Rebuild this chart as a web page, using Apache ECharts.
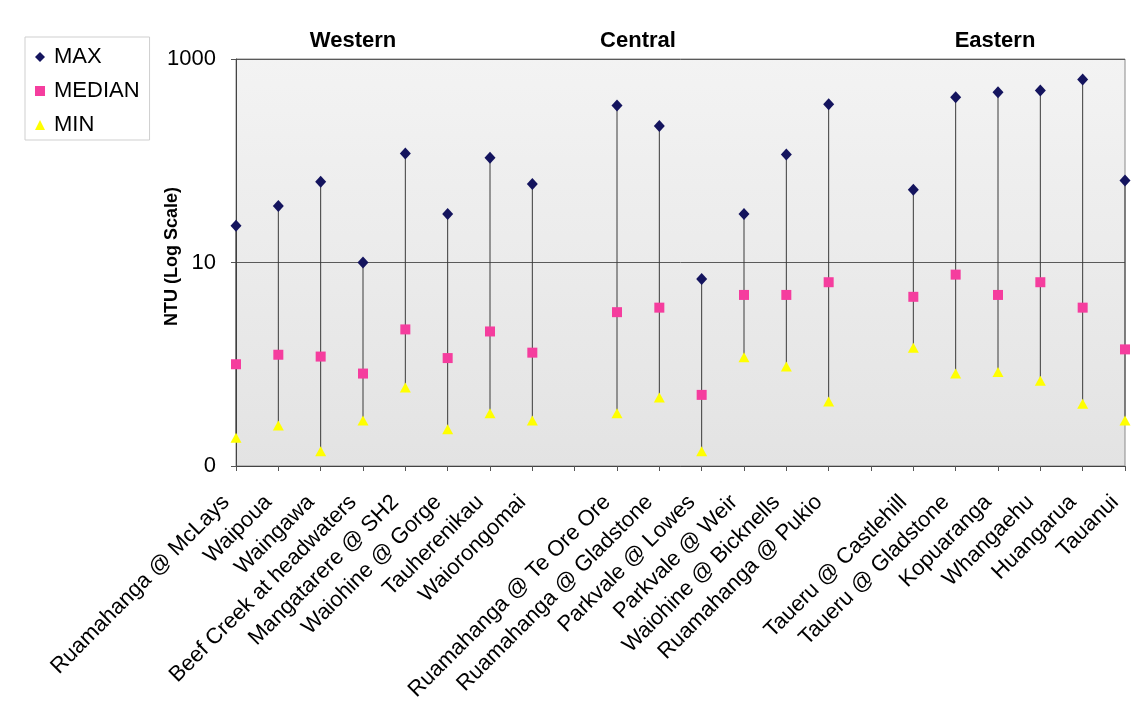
<!DOCTYPE html>
<html>
<head>
<meta charset="utf-8">
<script src="https://cdn.jsdelivr.net/npm/echarts@6/dist/echarts.min.js"></script>
<style>
  html, body { margin: 0; padding: 0; background: #fff; }
  #chart { width: 1132px; height: 704px; }
</style>
</head>
<body>
<div id="chart"></div>
<script>
// Turbidity (NTU) per monitoring site, grouped by region; '' marks the spacer slot between regions
const sites = [
  'Ruamahanga @ McLays', 'Waipoua', 'Waingawa', 'Beef Creek at headwaters',
  'Mangatarere @ SH2', 'Waiohine @ Gorge', 'Tauherenikau', 'Waiorongomai',
  '',
  'Ruamahanga @ Te Ore Ore', 'Ruamahanga @ Gladstone', 'Parkvale @ Lowes',
  'Parkvale @ Weir', 'Waiohine @ Bicknells', 'Ruamahanga @ Pukio',
  '',
  'Taueru @ Castlehill', 'Taueru @ Gladstone', 'Kopuaranga', 'Whangaehu',
  'Huangarua', 'Tauanui'
];
const maxNTU = [23, 36, 62, 10, 118, 30, 107, 59, null,
  350, 220, 6.9, 30, 115, 360, null,
  52, 420, 470, 490, 630, 64];
const medianNTU = [1.0, 1.24, 1.19, 0.81, 2.2, 1.15, 2.1, 1.3, null,
  3.25, 3.6, 0.5, 4.8, 4.8, 6.4, null,
  4.6, 7.6, 4.8, 6.4, 3.6, 1.4];
const minNTU = [0.19, 0.25, 0.14, 0.28, 0.59, 0.23, 0.33, 0.28, null,
  0.33, 0.47, 0.14, 1.17, 0.95, 0.43, null,
  1.45, 0.81, 0.84, 0.69, 0.41, 0.28];
const regions = ['Western', 'Central', 'Eastern'];
const yTickText = { '0.1': '0', '10': '10', '1000': '1000' };

const FONT = 'Liberation Sans, Arial, sans-serif';

// min-to-max range lines
const rangeData = [];
sites.forEach((s, i) => {
  if (minNTU[i] != null && maxNTU[i] != null) rangeData.push([i, minNTU[i], maxNTU[i]]);
});

const regionTitle = (text, x) => ({
  type: 'text', x: x, y: 41,
  style: { text: text, font: 'bold 22px ' + FONT, fill: '#000', textAlign: 'center', textVerticalAlign: 'middle' }
});

const chart = echarts.init(document.getElementById('chart'), null, { renderer: 'canvas' });

chart.setOption({
  backgroundColor: '#ffffff',
  animation: false,
  textStyle: { fontFamily: FONT },
  legend: {
    orient: 'vertical',
    left: 25,
    top: 37,
    padding: [9, 10, 4, 10],
    itemWidth: 10,
    itemHeight: 10,
    itemGap: 12,
    borderColor: '#cfcfcf',
    borderWidth: 1,
    textStyle: { fontSize: 22, color: '#000', fontFamily: FONT, padding: [0, 0, 0, 4] },
    data: [
      { name: 'MAX', itemStyle: { opacity: 1 } },
      { name: 'MEDIAN', itemStyle: { opacity: 1 } },
      { name: 'MIN', itemStyle: { opacity: 1 } }
    ]
  },
  graphic: [
    regionTitle(regions[0], 353),
    regionTitle(regions[1], 638),
    regionTitle(regions[2], 995)
  ],
  grid: {
    left: 236,
    right: 7,
    top: 59,
    bottom: 238,
    show: true,
    borderColor: '#8a8a8a',
    borderWidth: 1,
    backgroundColor: {
      type: 'linear', x: 0, y: 0, x2: 0, y2: 1,
      colorStops: [{ offset: 0, color: '#f3f3f3' }, { offset: 1, color: '#e3e3e3' }]
    }
  },
  xAxis: {
    type: 'category',
    data: sites,
    boundaryGap: false,
    axisLine: { lineStyle: { color: '#444', width: 1 } },
    axisTick: { show: true, interval: 0, length: 5, lineStyle: { color: '#555' } },
    axisLabel: {
      interval: 0,
      rotate: 45,
      margin: 23,
      padding: [0, 14, 0, 0],
      fontSize: 22,
      color: '#000',
      fontFamily: FONT
    },
    splitLine: { show: false }
  },
  yAxis: {
    type: 'log',
    logBase: 10,
    min: 0.1,
    max: 1000,
    interval: 2,
    name: 'NTU (Log Scale)',
    nameLocation: 'middle',
    nameRotate: 90,
    nameGap: 55,
    nameMoveOverlap: false,
    nameTextStyle: { fontSize: 18, fontWeight: 'bold', color: '#000', fontFamily: FONT, padding: [0, 0, 0, 12] },
    axisLine: { show: true, lineStyle: { color: '#444', width: 1 } },
    axisTick: { show: true, length: 5, lineStyle: { color: '#555' } },
    axisLabel: {
      fontSize: 22,
      color: '#000',
      margin: 20,
      fontFamily: FONT,
      formatter: v => {
        const key = String(+v.toPrecision(6));
        return yTickText[key] !== undefined ? yTickText[key] : '';
      }
    },
    splitLine: { show: true, lineStyle: { color: '#5a5a5a', width: 1 } }
  },
  series: [
    {
      name: 'range',
      type: 'custom',
      silent: true,
      z: 1,
      encode: { x: 0, y: [1, 2] },
      data: rangeData,
      renderItem: (params, api) => {
        const p1 = api.coord([api.value(0), api.value(1)]);
        const p2 = api.coord([api.value(0), api.value(2)]);
        return {
          type: 'line',
          shape: { x1: p1[0], y1: p1[1], x2: p2[0], y2: p2[1] },
          style: { stroke: '#3a3a3a', lineWidth: 1 }
        };
      }
    },
    {
      name: 'MAX',
      type: 'scatter',
      z: 3,
      symbol: 'diamond',
      symbolSize: [11, 12],
      itemStyle: { color: '#14145e', opacity: 1 },
      data: maxNTU
    },
    {
      name: 'MEDIAN',
      type: 'scatter',
      z: 3,
      symbol: 'rect',
      symbolSize: 10,
      itemStyle: { color: '#f53d9e', opacity: 1 },
      data: medianNTU
    },
    {
      name: 'MIN',
      type: 'scatter',
      z: 3,
      symbol: 'triangle',
      symbolSize: [11, 10],
      itemStyle: { color: '#ffff00', opacity: 1 },
      data: minNTU
    }
  ]
});
</script>
</body>
</html>
